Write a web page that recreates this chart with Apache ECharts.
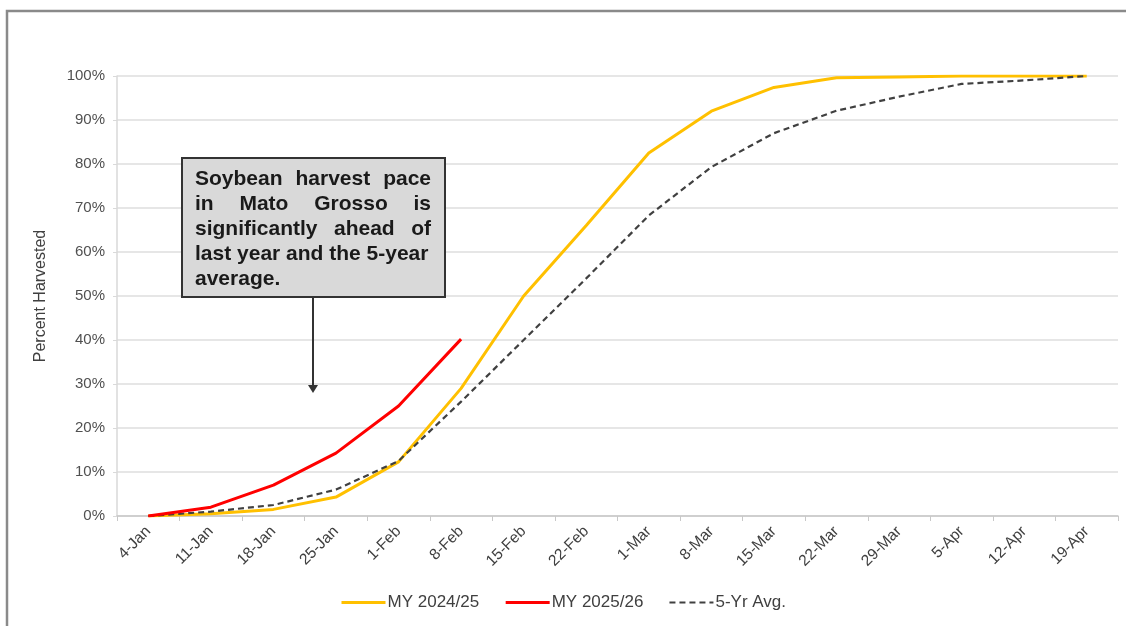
<!DOCTYPE html>
<html>
<head>
<meta charset="utf-8">
<script src="https://cdn.jsdelivr.net/npm/echarts@6/dist/echarts.min.js"></script>
<style>
html,body{margin:0;padding:0;background:#fff;}
#chart{width:1126px;height:626px;}
</style>
</head>
<body>
<div id="chart"></div>
<script>
var categories = ['4-Jan','11-Jan','18-Jan','25-Jan','1-Feb','8-Feb','15-Feb','22-Feb','1-Mar','8-Mar','15-Mar','22-Mar','29-Mar','5-Apr','12-Apr','19-Apr'];
var my2425 = [0, 0.5, 1.5, 4.3, 12.3, 29, 50, 66, 82.5, 92, 97.4, 99.6, 99.8, 100, 100, 100];
var my2526 = [0, 2, 7, 14.3, 25, 40.2, null, null, null, null, null, null, null, null, null, null];
var avg5 = [0, 1, 2.5, 6, 12.5, 26, 40, 54, 68.3, 79.3, 87, 92.1, 95.3, 98.2, 99, 100];
var yTicks = {min: 0, max: 100, interval: 10};

var FONT = '"Liberation Sans", Arial, sans-serif';
var chart = echarts.init(document.getElementById('chart'));

// justified annotation text
var annLines = [
  {words: ['Soybean','harvest','pace'], justify: true},
  {words: ['in','Mato','Grosso','is'], justify: true},
  {words: ['significantly','ahead','of'], justify: true},
  {words: ['last year and the 5-year'], justify: false},
  {words: ['average.'], justify: false}
];
var annFont = 'bold 21px ' + FONT;
var ctx = document.createElement('canvas').getContext('2d');
ctx.font = annFont;
var textLeft = 195, textRight = 431, lineY0 = 179, lineH = 25;
var annText = [];
annLines.forEach(function (ln, i) {
  var y = lineY0 + i * lineH;
  if (ln.justify && ln.words.length > 1) {
    var widths = ln.words.map(function (w) { return ctx.measureText(w).width; });
    var sum = widths.reduce(function (a, b) { return a + b; }, 0);
    var gap = (textRight - textLeft - sum) / (ln.words.length - 1);
    var x = textLeft;
    ln.words.forEach(function (w, j) {
      annText.push({type: 'text', x: x, y: y, z: 102,
        style: {text: w, font: annFont, fill: '#1a1a1a', textVerticalAlign: 'middle', textAlign: 'left'}});
      x += widths[j] + gap;
    });
  } else {
    annText.push({type: 'text', x: textLeft, y: y, z: 102,
      style: {text: ln.words[0], font: annFont, fill: '#1a1a1a', textVerticalAlign: 'middle', textAlign: 'left'}});
  }
});

var option = {
  animation: false,
  backgroundColor: '#fff',
  textStyle: {fontFamily: FONT},
  grid: {left: 117, right: 8, top: 76, bottom: 110},
  legend: {
    bottom: 10,
    left: 'center',
    itemWidth: 44,
    itemHeight: 12,
    itemGap: 25,
    itemStyle: {opacity: 0},
    textStyle: {fontSize: 17, color: '#404040', fontFamily: FONT, padding: [0, 0, 0, -3]},
    data: [
      {name: 'MY 2024/25', lineStyle: {width: 3}},
      {name: 'MY 2025/26', lineStyle: {width: 3}},
      {name: '5-Yr Avg.', lineStyle: {width: 2.2}}
    ]
  },
  xAxis: {
    type: 'category',
    data: categories,
    boundaryGap: true,
    axisLine: {lineStyle: {color: '#c8c8c8', width: 1.5}},
    axisTick: {show: true, length: 5, lineStyle: {color: '#c8c8c8'}},
    axisLabel: {rotate: 45, fontSize: 15.5, color: '#404040', margin: 13, fontFamily: FONT, interval: 0}
  },
  yAxis: {
    type: 'value',
    min: yTicks.min, max: yTicks.max, interval: yTicks.interval,
    name: 'Percent Harvested',
    nameLocation: 'middle',
    nameGap: 68,
    nameTextStyle: {fontSize: 16, color: '#404040', fontFamily: FONT},
    axisLine: {show: true, lineStyle: {color: '#d9d9d9', width: 1.5}},
    axisTick: {show: true, length: 4, lineStyle: {color: '#d9d9d9'}},
    axisLabel: {formatter: '{value}%', fontSize: 15, color: '#505050', margin: 12, fontFamily: FONT},
    splitLine: {lineStyle: {color: '#dedede', width: 1.5}}
  },
  series: [
    {name: 'MY 2024/25', type: 'line', data: my2425, symbol: 'none', z: 3,
      lineStyle: {color: '#FFC000', width: 3}, itemStyle: {color: '#FFC000'}},
    {name: '5-Yr Avg.', type: 'line', data: avg5, symbol: 'none', z: 4,
      lineStyle: {color: '#404040', width: 2.2, type: [6, 4]}, itemStyle: {color: '#404040'}},
    {name: 'MY 2025/26', type: 'line', data: my2526, symbol: 'none', z: 5,
      lineStyle: {color: '#FF0000', width: 3}, itemStyle: {color: '#FF0000'}}
  ],
  graphic: [
    {type: 'rect', z: 100, shape: {x: 7, y: 11, width: 1140, height: 640},
      style: {fill: 'none', stroke: '#8a8a8a', lineWidth: 2.5}},
    {type: 'rect', z: 101, shape: {x: 182, y: 158, width: 263, height: 139},
      style: {fill: '#d9d9d9', stroke: '#333333', lineWidth: 2}},
    {type: 'line', z: 101, shape: {x1: 313, y1: 297, x2: 313, y2: 386},
      style: {stroke: '#333333', lineWidth: 2}},
    {type: 'polygon', z: 101, shape: {points: [[308, 385], [318, 385], [313, 393]]},
      style: {fill: '#333333'}}
  ].concat(annText)
};
chart.setOption(option);
</script>
</body>
</html>
